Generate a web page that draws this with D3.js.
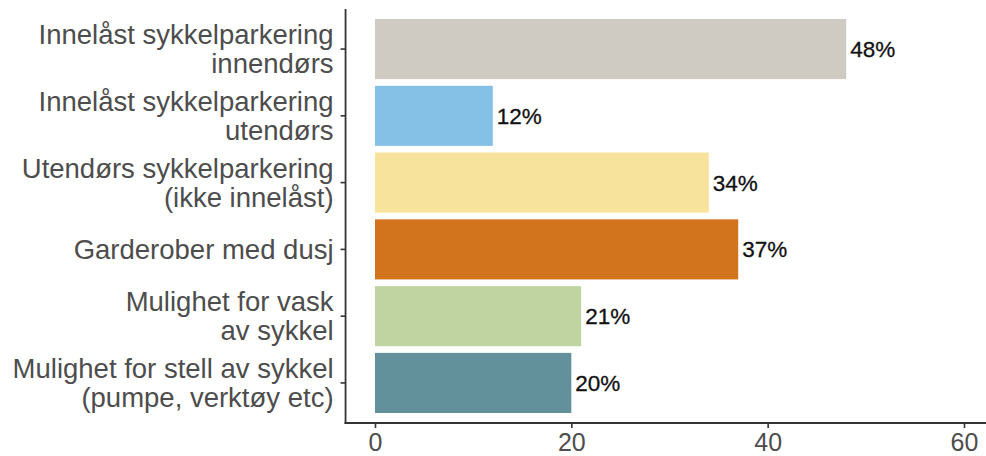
<!DOCTYPE html>
<html>
<head>
<meta charset="utf-8">
<script src="https://cdn.jsdelivr.net/npm/d3@7"></script>
<style>
  html, body { margin: 0; padding: 0; background: #fff; }
  svg { display: block; }
  text { font-family: "Liberation Sans", Arial, Helvetica, sans-serif; }
</style>
</head>
<body>
<svg id="chart" width="986" height="456"></svg>
<script>
// Share of respondents wanting each bicycle facility (%)
const categories = [
  ["Innelåst sykkelparkering", "innendørs"],
  ["Innelåst sykkelparkering", "utendørs"],
  ["Utendørs sykkelparkering", "(ikke innelåst)"],
  ["Garderober med dusj"],
  ["Mulighet for vask", "av sykkel"],
  ["Mulighet for stell av sykkel", "(pumpe, verktøy etc)"]
];
const values = [48, 12, 34, 37, 21, 20];
const colors = ["#cfcbc2", "#85c1e6", "#f7e39c", "#d2731d", "#bfd4a0", "#62909b"];
const xTicks = [0, 20, 40, 60];

const svg = d3.select("#chart");
const keys = categories.map(c => c.join(" "));

const x = d3.scaleLinear().domain([0, 60]).range([375, 964]);
const y = d3.scaleBand().domain(keys).range([9, 423]).paddingInner(0.1).paddingOuter(0.15);

const axisColor = "#333333";
const labelColor = "#4d4d4d";

// bars
svg.append("g").selectAll("rect")
  .data(values)
  .join("rect")
  .attr("x", x(0))
  .attr("y", (d, i) => y(keys[i]))
  .attr("width", d => x(d) - x(0))
  .attr("height", y.bandwidth())
  .attr("fill", (d, i) => colors[i]);

// value labels
svg.append("g").selectAll("text")
  .data(values)
  .join("text")
  .attr("x", d => x(d) + 4)
  .attr("y", (d, i) => y(keys[i]) + y.bandwidth() / 2 + 8)
  .attr("font-size", 22.5)
  .attr("fill", "#111")
  .attr("stroke", "#111")
  .attr("stroke-width", 0.3)
  .text(d => d + "%");

// y axis
const yAxis = d3.axisLeft(y).tickSize(5).tickFormat("");
const gy = svg.append("g").attr("transform", `translate(${x(-3)},0)`).call(yAxis);
gy.select(".domain").remove();
gy.selectAll(".tick line").attr("stroke", axisColor).attr("stroke-width", 1.6);
gy.append("line")
  .attr("x1", 0).attr("x2", 0)
  .attr("y1", y.range()[0]).attr("y2", y.range()[1] + 1)
  .attr("stroke", axisColor).attr("stroke-width", 1.8);

// multi-line category labels
svg.append("g").selectAll("text")
  .data(categories)
  .join("text")
  .attr("text-anchor", "end")
  .attr("font-size", 27.5)
  .attr("fill", labelColor)
  .each(function (lines, i) {
    const cy = y(keys[i]) + y.bandwidth() / 2;
    const t = d3.select(this);
    lines.forEach((ln, j) => {
      t.append("tspan")
        .attr("x", x(-3) - 12)
        .attr("y", cy + 9.5 + (j - (lines.length - 1) / 2) * 29)
        .text(ln);
    });
  });

// x axis
const xAxis = d3.axisBottom(x).tickValues(xTicks).tickSize(5).tickPadding(5).tickFormat(d3.format("d"));
const gx = svg.append("g").attr("transform", `translate(0,${y.range()[1]})`).call(xAxis);
gx.select(".domain").remove();
gx.append("line")
  .attr("x1", x(-3) - 1).attr("x2", x(63))
  .attr("y1", 0).attr("y2", 0)
  .attr("stroke", axisColor).attr("stroke-width", 1.8);
gx.selectAll(".tick line").attr("stroke", axisColor).attr("stroke-width", 1.6);
gx.selectAll(".tick text")
  .attr("font-size", 25)
  .attr("fill", labelColor)
  .attr("font-family", "'Liberation Sans', Arial, Helvetica, sans-serif");
</script>
</body>
</html>
